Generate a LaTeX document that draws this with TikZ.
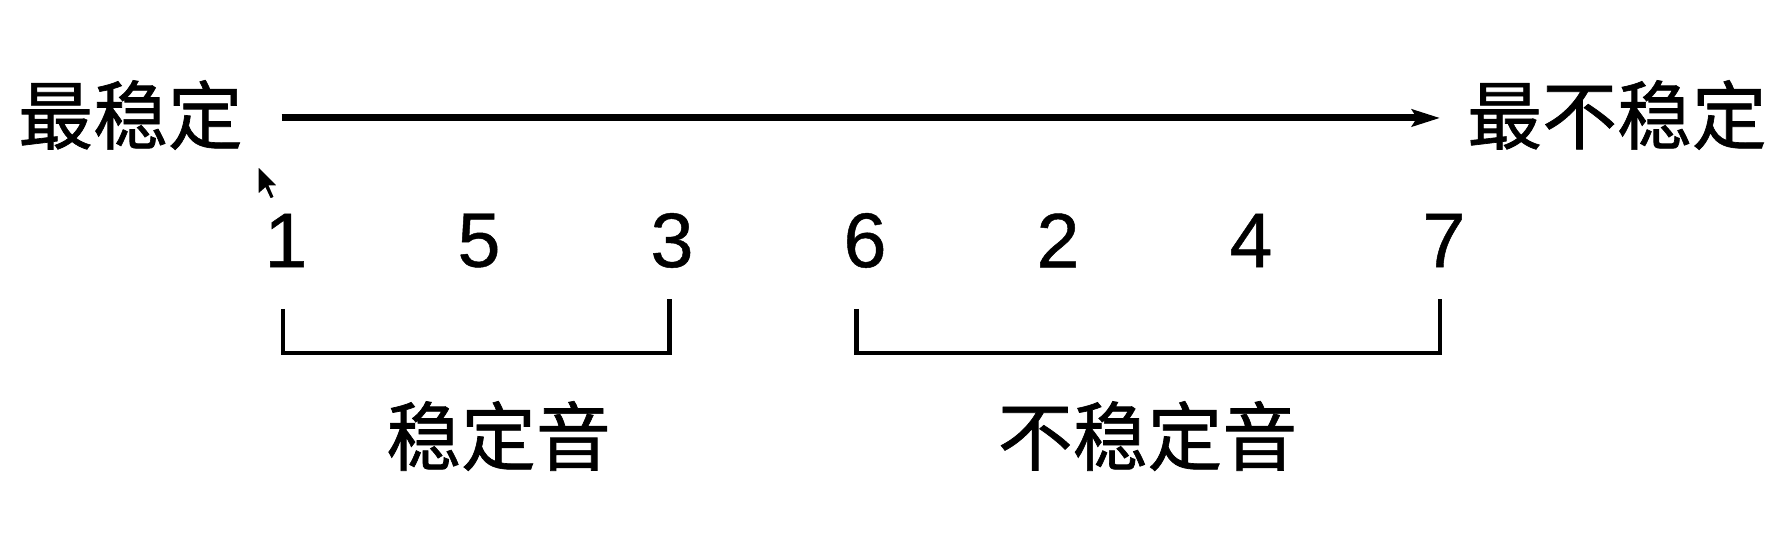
\documentclass[tikz,border=0pt]{standalone}
\usepackage{fontspec}
\setmainfont{Liberation Sans}
\newfontfamily\digits{Liberation Sans}[FakeBold=0.6]
\newfontfamily\cjk{Noto Sans CJK SC}[FakeBold=0.9]
\usepackage{tikz}
\usetikzlibrary{arrows.meta,positioning}

\tikzset{
    word/.style={font=\cjk\fontsize{21.3}{25}\selectfont, inner sep=0pt},
    degree/.style={font=\digits\fontsize{22}{26}\selectfont, inner sep=0pt},
    axis/.style={line width=2pt, -{Stealth[length=0.28cm,width=0.17cm,inset=0.05cm]}},
    bracket/.style={line width=1.2pt, line cap=butt, line join=miter}
}

\begin{document}
\begin{tikzpicture}

    %\draw[step=0.5,help lines] (0,0) grid (17.75,5.41);
    \useasboundingbox (0,0) rectangle (17.75,5.41);

    \node[word] (most) at (1.305,4.26) {最稳定};
    \node[word] (least) at (16.17,4.26) {最不稳定};

    \coordinate (axis_l) at (2.817,4.23);
    \coordinate (axis_r) at (14.40,4.23);
    \draw[axis] (axis_l) to (axis_r);

    \foreach \d [count=\i from 0] in {1,5,3,6,2,4,7}
        \node[degree] (deg_\d) at (2.86+1.93*\i,3.005) {\d};

    \draw[bracket] (2.83,2.32) |- (6.695,1.88) -- (6.695,2.42);
    \draw[bracket] (8.565,2.32) |- (14.40,1.88) -- (14.40,2.42);

    \node[word] (stable) at (4.985,1.05) {稳定音};
    \node[word] (unstable) at (11.475,1.05) {不稳定音};

    % cursor
    \filldraw[fill=black, draw=white, line width=0.4pt, shift={(2.58,3.75)}, x=0.018cm, y=-0.018cm]
        (0,0) -- (0,16) -- (4,12.5) -- (6.8,18.5) -- (9.2,17.4) -- (6.5,11.2) -- (11.2,11.2) -- cycle;

\end{tikzpicture}
\end{document}
